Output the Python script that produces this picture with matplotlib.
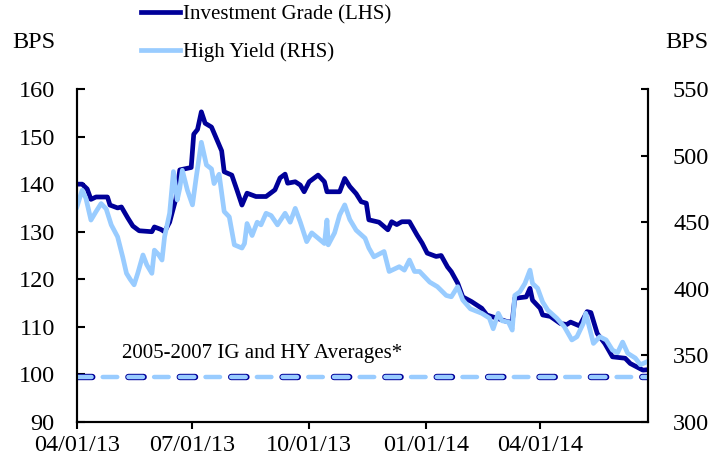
import numpy as np
import pandas as pd
import matplotlib
matplotlib.use("Agg")
import matplotlib.pyplot as plt
import matplotlib.dates as mdates

plt.rcParams['font.family'] = ['Liberation Serif', 'DejaVu Serif']
plt.rcParams['lines.scale_dashes'] = False

# Investment Grade spreads, bps (left axis)
ig_dates = ["2013-04-01", "2013-04-05", "2013-04-09", "2013-04-12", "2013-04-16", "2013-04-25",
            "2013-04-27", "2013-05-03", "2013-05-06", "2013-05-11", "2013-05-15", "2013-05-20",
            "2013-05-30", "2013-06-01", "2013-06-06", "2013-06-09", "2013-06-13", "2013-06-18",
            "2013-06-21", "2013-06-30", "2013-07-02", "2013-07-05", "2013-07-08", "2013-07-11",
            "2013-07-16", "2013-07-20", "2013-07-24", "2013-07-26", "2013-08-01", "2013-08-05",
            "2013-08-09", "2013-08-13", "2013-08-20", "2013-08-28", "2013-09-04", "2013-09-08",
            "2013-09-12", "2013-09-14", "2013-09-20", "2013-09-24", "2013-09-27", "2013-10-01",
            "2013-10-08", "2013-10-13", "2013-10-15", "2013-10-25", "2013-10-29", "2013-11-02",
            "2013-11-07", "2013-11-11", "2013-11-15", "2013-11-17", "2013-11-25", "2013-12-02",
            "2013-12-05", "2013-12-09", "2013-12-13", "2013-12-19", "2013-12-25", "2013-12-29",
            "2014-01-02", "2014-01-09", "2014-01-13", "2014-01-18", "2014-01-21", "2014-01-26",
            "2014-01-30", "2014-02-06", "2014-02-14", "2014-02-18", "2014-02-26", "2014-03-06",
            "2014-03-10", "2014-03-12", "2014-03-21", "2014-03-24", "2014-03-26", "2014-04-01",
            "2014-04-03", "2014-04-09", "2014-04-17", "2014-04-22", "2014-04-25", "2014-05-02",
            "2014-05-08", "2014-05-11", "2014-05-16", "2014-05-22", "2014-05-28", "2014-06-07",
            "2014-06-11", "2014-06-21", "2014-06-25"]
ig_vals = [140.0, 140.0, 139.0, 136.8, 137.3, 137.3,
           135.6, 135.0, 135.2, 132.9, 131.2, 130.2,
           130.0, 131.0, 130.5, 130.0, 132.0, 137.0,
           143.0, 143.5, 150.5, 151.5, 155.2, 152.8,
           152.0, 149.5, 147.0, 142.6, 141.9, 138.8,
           135.6, 138.1, 137.4, 137.4, 138.8, 141.3,
           142.1, 140.2, 140.5, 139.8, 138.4, 140.5,
           141.9, 140.5, 138.4, 138.4, 141.2, 139.5,
           138.0, 136.3, 136.0, 132.5, 132.0, 130.4,
           132.1, 131.5, 132.1, 132.1, 129.3, 127.6,
           125.5, 124.8, 125.0, 122.6, 121.6, 119.2,
           116.3, 115.3, 113.9, 112.5, 111.8, 111.1,
           111.0, 116.0, 116.3, 118.1, 115.6, 113.9,
           112.5, 112.2, 110.7, 110.5, 111.0, 110.2,
           113.2, 113.0, 108.6, 106.5, 103.7, 103.4,
           102.3, 100.9, 101.0]

# High Yield spreads, bps (right axis)
hy_dates = ["2013-04-01", "2013-04-05", "2013-04-08", "2013-04-12", "2013-04-16", "2013-04-20",
            "2013-04-24", "2013-04-28", "2013-05-03", "2013-05-07", "2013-05-10", "2013-05-13",
            "2013-05-16", "2013-05-19", "2013-05-23", "2013-05-26", "2013-05-30", "2013-06-01",
            "2013-06-04", "2013-06-07", "2013-06-09", "2013-06-13", "2013-06-16", "2013-06-19",
            "2013-06-21", "2013-06-23", "2013-06-27", "2013-07-01", "2013-07-04", "2013-07-08",
            "2013-07-12", "2013-07-16", "2013-07-18", "2013-07-22", "2013-07-26", "2013-07-30",
            "2013-08-03", "2013-08-09", "2013-08-11", "2013-08-13", "2013-08-17", "2013-08-21",
            "2013-08-24", "2013-08-28", "2013-09-01", "2013-09-06", "2013-09-12", "2013-09-16",
            "2013-09-20", "2013-09-24", "2013-09-29", "2013-10-03", "2013-10-08", "2013-10-13",
            "2013-10-15", "2013-10-16", "2013-10-21", "2013-10-25", "2013-10-29", "2013-11-02",
            "2013-11-07", "2013-11-14", "2013-11-17", "2013-11-21", "2013-11-27", "2013-11-29",
            "2013-12-03", "2013-12-11", "2013-12-15", "2013-12-19", "2013-12-23", "2013-12-27",
            "2014-01-04", "2014-01-10", "2014-01-17", "2014-01-21", "2014-01-26", "2014-01-30",
            "2014-02-05", "2014-02-14", "2014-02-20", "2014-02-23", "2014-02-27", "2014-03-02",
            "2014-03-07", "2014-03-10", "2014-03-12", "2014-03-16", "2014-03-20", "2014-03-24",
            "2014-03-26", "2014-03-30", "2014-04-03", "2014-04-07", "2014-04-14", "2014-04-20",
            "2014-04-26", "2014-04-30", "2014-05-05", "2014-05-07", "2014-05-13", "2014-05-18",
            "2014-05-23", "2014-05-28", "2014-06-01", "2014-06-05", "2014-06-09", "2014-06-15",
            "2014-06-19", "2014-06-25"]
hy_vals = [461.6, 474.0, 468.0, 451.6, 458.0, 464.0,
           460.0, 448.0, 439.0, 424.0, 411.6, 407.0,
           403.0, 412.0, 425.4, 418.0, 411.6, 429.0,
           426.0, 421.6, 439.0, 456.7, 488.0, 466.7,
           475.6, 489.0, 474.0, 463.0, 484.0, 510.0,
           493.0, 490.0, 479.0, 486.0, 458.0, 454.0,
           433.0, 430.6, 434.0, 449.0, 440.0, 450.0,
           448.0, 456.7, 455.0, 448.0, 456.7, 450.0,
           460.4, 450.0, 435.4, 442.0, 438.0, 434.0,
           451.6, 433.0, 442.0, 455.4, 463.0, 452.0,
           444.0, 438.0, 430.6, 424.0, 427.0, 428.0,
           413.0, 416.6, 414.0, 421.6, 413.0, 413.0,
           405.0, 401.6, 395.0, 394.0, 401.6, 391.6,
           385.0, 381.6, 378.0, 370.0, 381.6, 376.0,
           375.0, 369.0, 395.0, 397.8, 404.0, 414.0,
           404.0, 400.4, 390.0, 384.0, 378.0, 371.6,
           361.6, 364.0, 374.0, 381.6, 359.0, 364.0,
           361.6, 354.0, 352.0, 360.0, 351.6, 348.0,
           343.0, 345.6]

# 2005-2007 averages
ig_avg = 99.5
hy_avg = 333.5

x_ticks = ["2013-04-01", "2013-07-01", "2013-10-01", "2014-01-01", "2014-04-01"]
x_range = ["2013-04-01", "2014-06-25"]
legend_labels = ["Investment Grade (LHS)", "High Yield (RHS)"]

navy = "#000099"
light = "#99CCFF"
fs = 17.5

fig = plt.figure(figsize=(7.26, 4.69), dpi=100)
ax = fig.add_axes([77 / 726, 1 - 422 / 469, 571 / 726, 333 / 469])
ax2 = ax.twinx()

l1, = ax.plot(pd.to_datetime(ig_dates), ig_vals, color=navy, lw=3.4, solid_joinstyle='round')
l2, = ax2.plot(pd.to_datetime(hy_dates), hy_vals, color=light, lw=3.4, solid_joinstyle='round')

ax.axhline(ig_avg, color=navy, lw=4.6, dashes=(11, 26), dash_capstyle='round')
ax2.axhline(hy_avg, color=light, lw=3.2, dashes=(10.5, 8), dash_capstyle='round')

ax.set_ylim(90, 160)
ax.set_yticks(np.arange(90, 161, 10))
ax2.set_ylim(300, 550)
ax2.set_yticks(np.arange(300, 551, 50))
ax.set_xlim(pd.to_datetime(x_range[0]), pd.to_datetime(x_range[1]))
ax.set_xticks(pd.to_datetime(x_ticks))
ax.xaxis.set_major_formatter(mdates.DateFormatter("%m/%d/%y"))

for a in (ax, ax2):
    a.spines['top'].set_visible(False)
    for s in ('left', 'right', 'bottom'):
        a.spines[s].set_linewidth(1.5)
ax.tick_params(axis='y', direction='in', length=6, width=1.5, labelsize=fs, pad=16)
ax2.tick_params(axis='y', direction='in', length=5, width=1.5, labelsize=fs, pad=18)
ax.tick_params(axis='x', direction='out', length=5, width=1.5, labelsize=fs, pad=4)

ax.text(0.079, 0.207, "2005-2007 IG and HY Averages*", transform=ax.transAxes,
        fontsize=15, va='center', ha='left')

fig.text(12 / 726, 1 - 42 / 469, "BPS", fontsize=fs, va='center', ha='left')
fig.text(665 / 726, 1 - 42 / 469, "BPS", fontsize=fs, va='center', ha='left')

fig.legend([l1, l2], legend_labels, loc='upper left', bbox_to_anchor=(141 / 726, 1 - 5 / 469),
           frameon=False, fontsize=15, handlelength=1.85, handletextpad=0.15,
           labelspacing=0.85, borderpad=0.0, borderaxespad=0.0)

fig.savefig("out.png", dpi=100)
